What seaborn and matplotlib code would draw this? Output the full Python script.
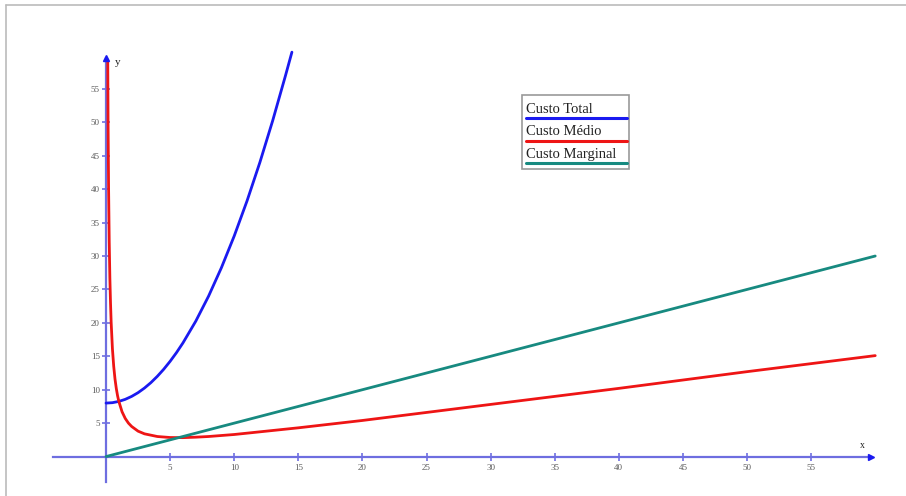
import numpy as np
import pandas as pd
import seaborn as sns
import matplotlib.pyplot as plt
from matplotlib.patches import Rectangle
from matplotlib.lines import Line2D

# valeurs
x_total = [0, 0.5, 1, 1.5, 2, 2.5, 3, 3.5, 4, 4.5, 5, 5.5, 6, 7, 8, 9, 10, 11, 12, 13, 14, 14.5]
y_total = [8, 8.06, 8.25, 8.56, 9, 9.56, 10.25, 11.06, 12, 13.06, 14.25, 15.56, 17, 20.25, 24,
           28.25, 33, 38.25, 44, 50.25, 57, 60.5]

x_medio = [0.135, 0.16, 0.2, 0.25, 0.3, 0.35, 0.4, 0.5, 0.6, 0.7, 0.8, 0.9, 1, 1.25, 1.5, 1.75, 2,
           2.5, 3, 3.5, 4, 5, 6, 7, 8, 10, 15, 20, 30, 40, 50, 60]
y_medio = [59.3, 50.0, 40.1, 32.1, 26.7, 23.0, 20.1, 16.1, 13.5, 11.6, 10.2, 9.1, 8.25, 6.7, 5.7,
           5.0, 4.5, 3.8, 3.4, 3.2, 3.0, 2.85, 2.83, 2.9, 3.0, 3.3, 4.3, 5.4, 7.8, 10.2, 12.7, 15.1]

x_marginal = [0, 10, 20, 30, 40, 50, 60]
y_marginal = [0, 5, 10, 15, 20, 25, 30]

x_ticks = [5, 10, 15, 20, 25, 30, 35, 40, 45, 50, 55]
y_ticks = [5, 10, 15, 20, 25, 30, 35, 40, 45, 50, 55]

legend_labels = ['Custo Total', 'Custo Médio', 'Custo Marginal']
couleurs = ['#1a1af0', '#ee1515', '#178a80']

#-------------------------------------------------------------------------------------------------
sns.set_style('white')
plt.rcParams['font.family'] = ['Liberation Serif', 'DejaVu Serif']

W, H = 906, 496
fig = plt.figure(figsize=(W / 100, H / 100), dpi=100)
ax = fig.add_axes([0, 0, 1, 1])

series = [(x_total, y_total), (x_medio, y_medio), (x_marginal, y_marginal)]
for (xs, ys), lab, c in zip(series, legend_labels, couleurs):
    df = pd.DataFrame({'x': xs, 'y': ys})
    sns.lineplot(data=df, x='x', y='y', color=c, lw=2, sort=False, ax=ax, legend=False)

ax.set_xlim(-8.27, 62.4)
ax.set_ylim(-5.9, 68.3)
ax.set_xlabel('')
ax.set_ylabel('')

# axes au centre (0,0)
axe_col = '#6e6ee0'
ax.spines['top'].set_visible(False)
ax.spines['right'].set_visible(False)
ax.spines['left'].set_position(('data', 0))
ax.spines['bottom'].set_position(('data', 0))
ax.spines['left'].set_bounds(-3.8, 59.6)
ax.spines['bottom'].set_bounds(-4.1, 59.7)
for s in ['left', 'bottom']:
    ax.spines[s].set_color(axe_col)
    ax.spines[s].set_linewidth(1.6)
    ax.spines[s].set_zorder(1)
ax.plot(59.7, 0, '>', color='#1a1af0', ms=5, clip_on=False)
ax.plot(0, 59.6, '^', color='#1a1af0', ms=5, clip_on=False)

ax.set_xticks(x_ticks)
ax.set_yticks(y_ticks)
ax.tick_params(axis='both', direction='inout', length=6, width=1.2, color=axe_col,
               labelsize=6.5, labelcolor='#5a5a5a', bottom=True, left=True)
ax.tick_params(axis='x', pad=2.5)
ax.tick_params(axis='y', pad=1.5)
ax.text(59.0, 1.0, 'x', fontsize=7, color='#222222', ha='center', va='bottom')
ax.text(0.7, 59.0, 'y', fontsize=8, color='#222222', ha='left', va='center')

# legende (texte au-dessus du trait)
def fx(px):
    return px / W

def fy(py):
    return 1 - py / H

fig.add_artist(Rectangle((fx(522), fy(169)), fx(107), 74 / H, transform=fig.transFigure,
                         facecolor='white', edgecolor='#999999', lw=1.2))
for i, (lab, c) in enumerate(zip(legend_labels, couleurs)):
    base = 113 + i * 22.3
    fig.text(fx(526), fy(base), lab, fontsize=10.5, color='#222222', va='baseline', ha='left')
    fig.add_artist(Line2D([fx(526), fx(627)], [fy(base + 5.3)] * 2, transform=fig.transFigure,
                          color=c, lw=2.2))

# cadre gris haut/gauche
fig.add_artist(Line2D([fx(6), 1], [fy(5), fy(5)], transform=fig.transFigure, color='#bbbbbb', lw=1.2))
fig.add_artist(Line2D([fx(6), fx(6)], [fy(5), 0], transform=fig.transFigure, color='#bbbbbb', lw=1.2))

fig.savefig('out.png', dpi=100, facecolor='white')
